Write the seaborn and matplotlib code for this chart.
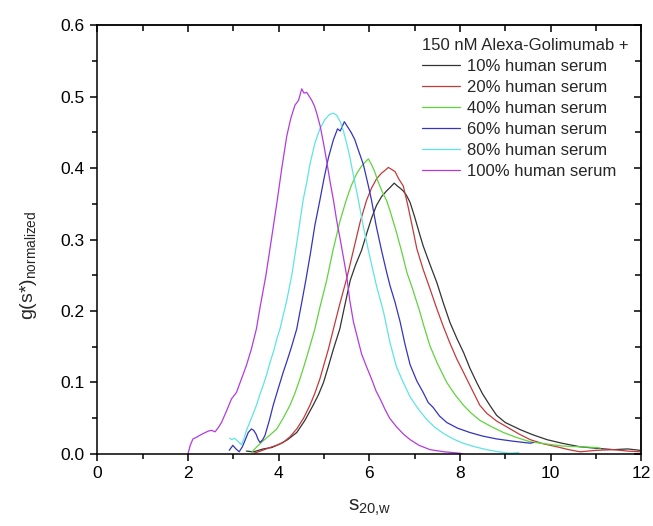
import numpy as np
import pandas as pd
import matplotlib
matplotlib.use("Agg")
import matplotlib.pyplot as plt
import seaborn as sns

sns.set_theme(style="white")
plt.rcParams['font.family'] = ['Liberation Sans', 'DejaVu Sans']
plt.rcParams['mathtext.fontset'] = 'custom'
plt.rcParams['mathtext.rm'] = 'Liberation Sans'
plt.rcParams['mathtext.it'] = 'Liberation Sans'

labels = ["10% human serum", "20% human serum", "40% human serum",
          "60% human serum", "80% human serum", "100% human serum"]
colors = ["#333333", "#c23a3a", "#5fd43c", "#3434bc", "#5ee4e4", "#b43ae0"]

s_10 = [3.29, 3.45, 3.66, 3.85, 4.03, 4.20, 4.40, 4.58, 4.76, 4.88, 4.99, 5.10, 5.21, 5.35,
        5.45, 5.58, 5.70, 5.83, 5.95, 6.05, 6.16, 6.27, 6.38, 6.46, 6.55, 6.62, 6.68, 6.75,
        6.82, 6.90, 7.00, 7.10, 7.19, 7.34, 7.49, 7.63, 7.78, 7.93, 8.08, 8.22, 8.37, 8.50,
        8.66, 8.81, 9.00, 9.33, 9.60, 9.92, 10.25, 10.65, 11.00, 11.39, 11.70, 11.98]
g_10 = [0.004, 0.003, 0.007, 0.009, 0.014, 0.020, 0.030, 0.047, 0.068, 0.083, 0.100, 0.123,
        0.147, 0.175, 0.205, 0.243, 0.265, 0.285, 0.310, 0.330, 0.348, 0.360, 0.368, 0.373,
        0.379, 0.375, 0.372, 0.368, 0.362, 0.352, 0.332, 0.310, 0.291, 0.265, 0.240, 0.212,
        0.184, 0.162, 0.142, 0.120, 0.100, 0.084, 0.068, 0.054, 0.044, 0.034, 0.027, 0.020,
        0.015, 0.010, 0.008, 0.006, 0.007, 0.005]

s_20 = [3.46, 3.60, 3.81, 3.95, 4.10, 4.25, 4.40, 4.55, 4.69, 4.80, 4.91, 5.00, 5.10, 5.21,
        5.35, 5.50, 5.65, 5.80, 5.94, 6.05, 6.16, 6.27, 6.35, 6.42, 6.50, 6.57, 6.65, 6.75,
        6.85, 6.95, 7.05, 7.19, 7.34, 7.48, 7.63, 7.78, 7.93, 8.08, 8.22, 8.33, 8.44, 8.59,
        8.81, 9.03, 9.30, 9.55, 9.85, 10.14, 10.40, 10.65, 11.00, 11.39, 11.70, 11.98]
g_20 = [0.001, 0.004, 0.009, 0.012, 0.016, 0.024, 0.035, 0.050, 0.068, 0.085, 0.105, 0.125,
        0.147, 0.175, 0.210, 0.245, 0.285, 0.325, 0.355, 0.372, 0.385, 0.393, 0.397, 0.401,
        0.398, 0.395, 0.385, 0.375, 0.348, 0.318, 0.287, 0.258, 0.231, 0.205, 0.179, 0.155,
        0.133, 0.114, 0.096, 0.082, 0.068, 0.057, 0.046, 0.038, 0.028, 0.020, 0.014, 0.010,
        0.006, 0.003, 0.005, 0.006, 0.004, 0.003]

s_40 = [3.40, 3.52, 3.67, 3.80, 3.96, 4.10, 4.25, 4.36, 4.47, 4.56, 4.65, 4.80, 4.91, 5.06,
        5.20, 5.35, 5.49, 5.60, 5.72, 5.82, 5.90, 5.98, 6.05, 6.12, 6.20, 6.30, 6.38, 6.46,
        6.60, 6.72, 6.83, 6.95, 7.05, 7.12, 7.20, 7.34, 7.50, 7.71, 7.89, 8.08, 8.25, 8.44,
        8.70, 8.96, 9.25, 9.55, 9.90, 10.28, 10.65, 11.02, 11.10]
g_40 = [0.002, 0.010, 0.019, 0.026, 0.035, 0.050, 0.068, 0.085, 0.105, 0.123, 0.142, 0.175,
        0.205, 0.243, 0.285, 0.325, 0.355, 0.375, 0.392, 0.402, 0.408, 0.413, 0.405, 0.395,
        0.380, 0.365, 0.355, 0.340, 0.310, 0.282, 0.254, 0.232, 0.212, 0.198, 0.180, 0.151,
        0.127, 0.100, 0.083, 0.068, 0.057, 0.047, 0.038, 0.030, 0.023, 0.017, 0.014, 0.011,
        0.010, 0.009, 0.008]

s_60 = [2.91, 2.99, 3.06, 3.13, 3.20, 3.26, 3.33, 3.40, 3.45, 3.50, 3.55, 3.59, 3.65, 3.70,
        3.80, 3.88, 3.96, 4.10, 4.20, 4.29, 4.40, 4.51, 4.60, 4.70, 4.80, 4.91, 5.00, 5.10,
        5.21, 5.30, 5.36, 5.45, 5.52, 5.60, 5.68, 5.76, 5.87, 5.97, 6.05, 6.15, 6.27, 6.38,
        6.46, 6.57, 6.68, 6.79, 6.90, 7.05, 7.19, 7.30, 7.41, 7.55, 7.71, 7.95, 8.22, 8.50,
        8.81, 9.15, 9.55, 9.62]
g_60 = [0.005, 0.012, 0.007, 0.003, 0.010, 0.019, 0.030, 0.035, 0.033, 0.028, 0.020, 0.016,
        0.020, 0.026, 0.048, 0.068, 0.085, 0.114, 0.133, 0.151, 0.175, 0.212, 0.243, 0.280,
        0.320, 0.355, 0.385, 0.415, 0.440, 0.455, 0.452, 0.465, 0.458, 0.450, 0.440, 0.425,
        0.405, 0.378, 0.355, 0.320, 0.285, 0.255, 0.235, 0.212, 0.185, 0.153, 0.125, 0.102,
        0.086, 0.072, 0.065, 0.053, 0.044, 0.036, 0.030, 0.025, 0.021, 0.018, 0.015, 0.016]

s_80 = [2.92, 2.97, 3.02, 3.08, 3.13, 3.18, 3.24, 3.29, 3.40, 3.51, 3.58, 3.66, 3.74, 3.81,
        3.90, 3.96, 4.03, 4.18, 4.29, 4.40, 4.47, 4.54, 4.62, 4.69, 4.80, 4.91, 5.02, 5.12,
        5.21, 5.28, 5.36, 5.43, 5.50, 5.57, 5.64, 5.76, 5.87, 5.98, 6.16, 6.31, 6.46, 6.60,
        6.75, 6.90, 7.08, 7.27, 7.45, 7.63, 7.85, 8.07, 8.33, 8.59, 8.85, 9.10, 9.30]
g_80 = [0.022, 0.020, 0.022, 0.019, 0.016, 0.013, 0.022, 0.033, 0.050, 0.068, 0.082, 0.096,
        0.112, 0.128, 0.146, 0.161, 0.175, 0.215, 0.250, 0.295, 0.325, 0.355, 0.380, 0.405,
        0.435, 0.455, 0.468, 0.475, 0.477, 0.474, 0.465, 0.452, 0.435, 0.416, 0.393, 0.355,
        0.318, 0.285, 0.235, 0.200, 0.155, 0.122, 0.100, 0.080, 0.063, 0.048, 0.037, 0.029,
        0.021, 0.015, 0.010, 0.006, 0.003, 0.001, 0.002]

s_100 = [2.00, 2.05, 2.11, 2.18, 2.26, 2.35, 2.45, 2.52, 2.60, 2.67, 2.74, 2.85, 2.96, 3.07,
         3.18, 3.29, 3.40, 3.51, 3.59, 3.72, 3.84, 3.97, 4.07, 4.18, 4.27, 4.36, 4.44, 4.51,
         4.56, 4.62, 4.68, 4.73, 4.79, 4.84, 4.92, 4.99, 5.06, 5.13, 5.21, 5.28, 5.36, 5.43,
         5.50, 5.57, 5.65, 5.75, 5.83, 5.94, 6.05, 6.15, 6.24, 6.35, 6.45, 6.60, 6.75, 6.90,
         7.10, 7.34, 7.65, 8.00, 8.05]
g_100 = [0.000, 0.012, 0.021, 0.023, 0.026, 0.029, 0.032, 0.033, 0.031, 0.037, 0.044, 0.060,
         0.077, 0.086, 0.105, 0.124, 0.147, 0.175, 0.205, 0.250, 0.300, 0.355, 0.400, 0.445,
         0.470, 0.488, 0.495, 0.511, 0.505, 0.506, 0.500, 0.495, 0.487, 0.477, 0.458, 0.435,
         0.410, 0.383, 0.355, 0.327, 0.300, 0.275, 0.250, 0.215, 0.185, 0.160, 0.140, 0.122,
         0.105, 0.088, 0.077, 0.062, 0.050, 0.038, 0.028, 0.020, 0.012, 0.006, 0.003, 0.001,
         0.000]

series = [(s_10, g_10), (s_20, g_20), (s_40, g_40), (s_60, g_60), (s_80, g_80), (s_100, g_100)]
frames = []
for lab, (s, g) in zip(labels, series):
    n = min(len(s), len(g))
    frames.append(pd.DataFrame({"s": s[:n], "g": g[:n], "sample": lab}))
df = pd.concat(frames, ignore_index=True)

fig = plt.figure(figsize=(6.53, 5.26), dpi=100)
ax = fig.add_axes([0.149, 0.137, 0.833, 0.815])

sns.lineplot(data=df, x="s", y="g", hue="sample", hue_order=labels,
             palette=dict(zip(labels, colors)), sort=False, estimator=None,
             linewidth=0.9, ax=ax, legend=True)

ax.set_xlim(0, 12)
ax.set_ylim(0, 0.6)
ax.set_xticks(np.arange(0, 13, 2))
ax.set_xticks(np.arange(0, 13, 1), minor=True)
ax.set_yticks(np.arange(0, 0.61, 0.1))
ax.set_yticks(np.arange(0, 0.61, 0.05), minor=True)
ax.set_xticklabels([str(int(v)) for v in np.arange(0, 13, 2)])
ax.set_yticklabels([f"{v:.1f}" for v in np.arange(0, 0.61, 0.1)])

for sp in ax.spines.values():
    sp.set_visible(True)
    sp.set_color("black")
    sp.set_linewidth(1.1)

ax.tick_params(which='both', direction='out', top=False, right=False,
               left=True, bottom=True, colors='black', labelsize=12.5, width=1.1)
ax.tick_params(which='major', length=5, pad=4)
ax.tick_params(which='minor', length=3.5)

axt = ax.secondary_xaxis('top')
axt.set_xticks(np.arange(0, 13, 2))
axt.set_xticks(np.arange(0, 13, 1), minor=True)
axt.tick_params(which='both', direction='in', labeltop=False, width=1.1, colors='black')
axt.tick_params(which='major', length=5)
axt.tick_params(which='minor', length=4)
axt.spines['top'].set_linewidth(1.1)

axr = ax.secondary_yaxis('right')
axr.set_yticks(np.arange(0, 0.61, 0.1))
axr.set_yticks(np.arange(0, 0.61, 0.05), minor=True)
axr.tick_params(which='both', direction='in', labelright=False, width=1.1, colors='black')
axr.tick_params(which='major', length=5)
axr.tick_params(which='minor', length=4)
axr.spines['right'].set_linewidth(1.1)

ax.set_xlabel(r"$\mathrm{s}_{\mathrm{20{,}w}}$", fontsize=15, labelpad=12)
ax.set_ylabel(r"g(s*)$_{\mathrm{normalized}}$", fontsize=14)
ax.yaxis.set_label_coords(-0.108, 0.44)

handles, labs = ax.get_legend_handles_labels()
ax.get_legend().remove()
leg = ax.legend(handles, labs, title="150 nM Alexa-Golimumab +", loc="upper right",
                bbox_to_anchor=(0.995, 0.993), frameon=False, fontsize=12,
                title_fontsize=12, handlelength=2.3, handletextpad=0.4,
                labelspacing=0.36, borderaxespad=0.2, alignment='left')
for h in leg.get_lines():
    h.set_linewidth(0.9)

fig.savefig("out.png", dpi=100)
